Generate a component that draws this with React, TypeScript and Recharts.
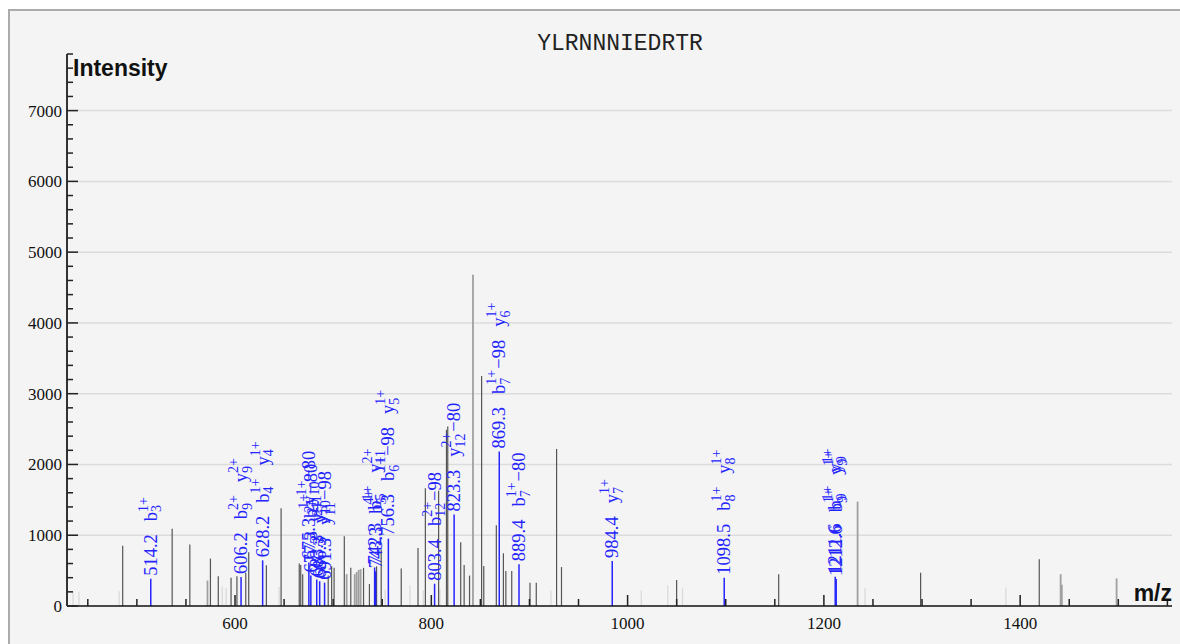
import React from 'react'
import { ComposedChart, Bar, XAxis, YAxis, CartesianGrid } from 'recharts'

const peptide = 'YLRNNNIEDRTR'

// unmatched peaks, dark gray
const darkMz = [485.6, 536, 554, 575, 583, 596, 602, 611, 614, 632, 647, 665.5, 667, 669, 695, 698.5, 701, 711.4, 718, 731, 737, 744.3, 749, 769.4, 786.5, 794, 807.5, 815.5, 816.8, 830, 833.5, 839, 851.3, 853.5, 866.3, 873.5, 876, 882, 900.6, 907, 927.7, 932.7, 1050, 1154, 1298.6, 1419.5]
const darkIntensity = [850, 1090, 870, 670, 420, 400, 420, 470, 760, 575, 1380, 600, 580, 450, 430, 560, 540, 985, 540, 540, 310, 560, 800, 530, 820, 1665, 1630, 2490, 2535, 900, 580, 430, 3250, 565, 1140, 745, 495, 495, 330, 330, 2220, 550, 367, 448, 470, 660]

// unmatched peaks, mid gray
const midMz = [572, 713.8, 722, 724, 726, 728, 842.5, 1234.4, 1441.3, 1442.5, 1498.3]
const midIntensity = [360, 450, 450, 480, 510, 520, 4680, 1476, 450, 300, 390]

// weak peaks, light gray
const lightMz = [435, 441, 482, 587, 591, 645, 753, 778.3, 791.9, 808.9, 922, 1014, 1041, 1056, 1242, 1385.5]
const lightIntensity = [200, 200, 210, 280, 250, 270, 230, 290, 220, 240, 220, 220, 290, 250, 250, 260]

// annotated fragment ions
const ionMz = [514.2, 606.2, 628.2, 675.3, 677.3, 683.3, 686.3, 691.3, 742.3, 743.3, 756.3, 803.4, 823.3, 869.3, 889.4, 984.4, 1098.5, 1211.6, 1212.6]
const ionIntensity = [385, 410, 645, 615, 430, 375, 350, 330, 545, 490, 952, 315, 1293, 2183, 590, 636, 400, 415, 380]
const ionLabels = [
  ['b_3^1+'],
  ['b_9^2+', 'y_9^2+'],
  ['b_4^1+', 'y_4^1+'],
  ['y_10^1+−80'],
  ['b_11^1+−80'],
  ['y_5^2+'],
  ['y_10^2+'],
  ['y_11^2+−98'],
  ['b_5^1+', 'y_11^2+'],
  ['b_5^4+'],
  ['b_6^1+−98', 'y_5^1+'],
  ['b_12^2+−98'],
  ['y_12^2+−80'],
  ['b_7^1+−98', 'y_6^1+'],
  ['b_7^1+−80'],
  ['y_7^1+'],
  ['b_8^1+', 'y_8^1+'],
  ['b_9^1+', 'y_9^1+'],
  ['b_9^1+', 'y_9^1+'],
]

const xDomain = [428.8, 1554.7]
const xTicks = [450, 500, 550, 600, 650, 700, 750, 800, 850, 900, 950, 1000, 1050, 1100, 1150, 1200, 1250, 1300, 1350, 1400, 1450, 1500, 1550]
const yMax = 7800
const yTicks = [0, 200, 400, 600, 800, 1000, 1200, 1400, 1600, 1800, 2000, 2200, 2400, 2600, 2800, 3000, 3200, 3400, 3600, 3800, 4000, 4200, 4400, 4600, 4800, 5000, 5200, 5400, 5600, 5800, 6000, 6200, 6400, 6600, 6800, 7000, 7200, 7400, 7600, 7800]
const gridValues = [1000, 2000, 3000, 4000, 5000, 6000, 7000]

const peaks = [
  ...lightMz.map((mz, i) => ({ mz, intensity: lightIntensity[i], kind: 'light' })),
  ...midMz.map((mz, i) => ({ mz, intensity: midIntensity[i], kind: 'mid' })),
  ...darkMz.map((mz, i) => ({ mz, intensity: darkIntensity[i], kind: 'dark' })),
  ...ionMz.map((mz, i) => ({ mz, intensity: ionIntensity[i], kind: 'ion', labels: ionLabels[i] })),
]

const SERIF = '"Liberation Serif", "Times New Roman", serif'
const SANS = '"Liberation Sans", Arial, sans-serif'
const BLUE = '#2424ff'
const FS = 18.5
const SFS = 14
const GAP = 13

const peakColor: Record<string, string> = { light: '#d8d8d8', mid: '#a0a0a0', dark: '#555', ion: BLUE }
const peakWidth: Record<string, number> = { light: 1.2, mid: 1.8, dark: 1.2, ion: 1.5 }

function textWidth(s: string, fs: number) {
  let w = 0
  for (const ch of s) {
    if (ch === '.') w += 0.25 * fs
    else if (ch === '−' || ch === '+') w += 0.564 * fs
    else w += 0.5 * fs
  }
  return w
}

function IonLabel({ label, at, dy }: { label: string; at: number; dy: number }) {
  const m = label.match(/^([a-z])_(\d+)\^(\d\+)(.*)$/)
  if (!m) return null
  const [, base, sub, sup, suffix] = m
  const bw = textWidth(base, FS)
  const sw = Math.max(textWidth(sub, SFS), textWidth(sup, SFS))
  return (
    <g fill={BLUE} fontFamily={SERIF}>
      <text x={at} y={dy} fontSize={FS}>{base}</text>
      <text x={at + bw} y={dy + 4.5} fontSize={SFS}>{sub}</text>
      <text x={at + bw} y={dy - 9} fontSize={SFS}>{sup}</text>
      {suffix && <text x={at + bw + sw + 1} y={dy} fontSize={FS}>{suffix}</text>}
    </g>
  )
}

function ionWidth(label: string) {
  const m = label.match(/^([a-z])_(\d+)\^(\d\+)(.*)$/)
  if (!m) return 0
  const [, base, sub, sup, suffix] = m
  return textWidth(base, FS) + Math.max(textWidth(sub, SFS), textWidth(sup, SFS)) + (suffix ? 1 + textWidth(suffix, FS) : 0)
}

const PeakShape = (props: any) => {
  const { x, y, width, height, payload } = props
  if (height == null || isNaN(height)) return null
  const cx = x + width / 2
  const kind = payload.kind
  const line = (
    <line x1={cx} x2={cx} y1={y} y2={y + height} stroke={peakColor[kind]} strokeWidth={peakWidth[kind]} />
  )
  if (kind !== 'ion') return line
  const num = payload.mz.toFixed(1)
  const dy = 6
  let at = 3
  const parts: React.ReactNode[] = [
    <text key="n" x={at} y={dy} fontSize={FS} fontFamily={SERIF} fill={BLUE}>{num}</text>,
  ]
  at += textWidth(num, FS) + GAP
  payload.labels.forEach((lb: string, i: number) => {
    parts.push(<IonLabel key={i} label={lb} at={at} dy={dy} />)
    at += ionWidth(lb) + GAP
  })
  return (
    <g>
      {line}
      <g transform={`translate(${cx},${y}) rotate(-90)`}>{parts}</g>
    </g>
  )
}

const XTick = (props: any) => {
  const { x, y, payload } = props
  const v = payload.value
  const major = v % 200 === 0
  return (
    <g>
      <line x1={x} x2={x} y1={y} y2={y - (major ? 11 : 7)} stroke="#222" strokeWidth={1.5} />
      {major && (
        <text x={x} y={y + 23} textAnchor="middle" fontSize={17} fontFamily={SERIF} fill="#111">{v}</text>
      )}
    </g>
  )
}

const YTick = (props: any) => {
  const { x, y, payload } = props
  const v = payload.value
  const major = v % 1000 === 0
  return (
    <g>
      <line x1={x} x2={x + (major ? 11 : 6)} y1={y} y2={y} stroke="#222" strokeWidth={1.5} />
      {major && (
        <text x={x - 5} y={y + 6} textAnchor="end" fontSize={17} fontFamily={SERIF} fill="#111">{v}</text>
      )}
    </g>
  )
}

export default function App() {
  return (
    <div style={{ position: 'relative', width: 1180, height: 644, overflow: 'hidden', background: '#fff' }}>
      <style>{'body{margin:0;overflow:hidden}'}</style>
      <div
        style={{
          position: 'absolute', left: 8, top: 9, width: 1220, height: 700,
          borderTop: '2px solid #ababab', borderLeft: '2px solid #ababab', background: '#f4f4f4',
        }}
      />
      <div style={{ position: 'absolute', left: 0, top: 0 }}>
        <ComposedChart width={1180} height={644} data={peaks} margin={{ top: 54, right: 8, bottom: 0, left: 7 }}>
          <CartesianGrid vertical={false} horizontalValues={gridValues} stroke="#dcdcdc" strokeWidth={1.5} />
          <XAxis
            type="number" dataKey="mz" domain={xDomain} allowDataOverflow ticks={xTicks} interval={0}
            tick={<XTick />} tickLine={false} tickSize={0} tickMargin={0} height={38}
            axisLine={{ stroke: '#111', strokeWidth: 1.5 }}
          />
          <YAxis
            type="number" domain={[0, yMax]} allowDataOverflow ticks={yTicks} interval={0}
            tick={<YTick />} tickLine={false} tickSize={0} tickMargin={0} width={60}
            axisLine={{ stroke: '#333', strokeWidth: 2 }}
          />
          <Bar dataKey="intensity" barSize={1} shape={PeakShape} isAnimationActive={false} />
        </ComposedChart>
      </div>
      <svg width={1180} height={644} style={{ position: 'absolute', left: 0, top: 0, pointerEvents: 'none' }}>
        <text x={620} y={50} textAnchor="middle" fontSize={23} fontFamily='"Liberation Mono", monospace' fill="#222">{peptide}</text>
        <text x={73} y={76} fontSize={23} fontWeight="bold" fontFamily={SANS} fill="#111">Intensity</text>
        <text x={1172} y={601} textAnchor="end" fontSize={23} fontWeight="bold" fontFamily={SANS} fill="#111">m/z</text>
      </svg>
    </div>
  )
}
